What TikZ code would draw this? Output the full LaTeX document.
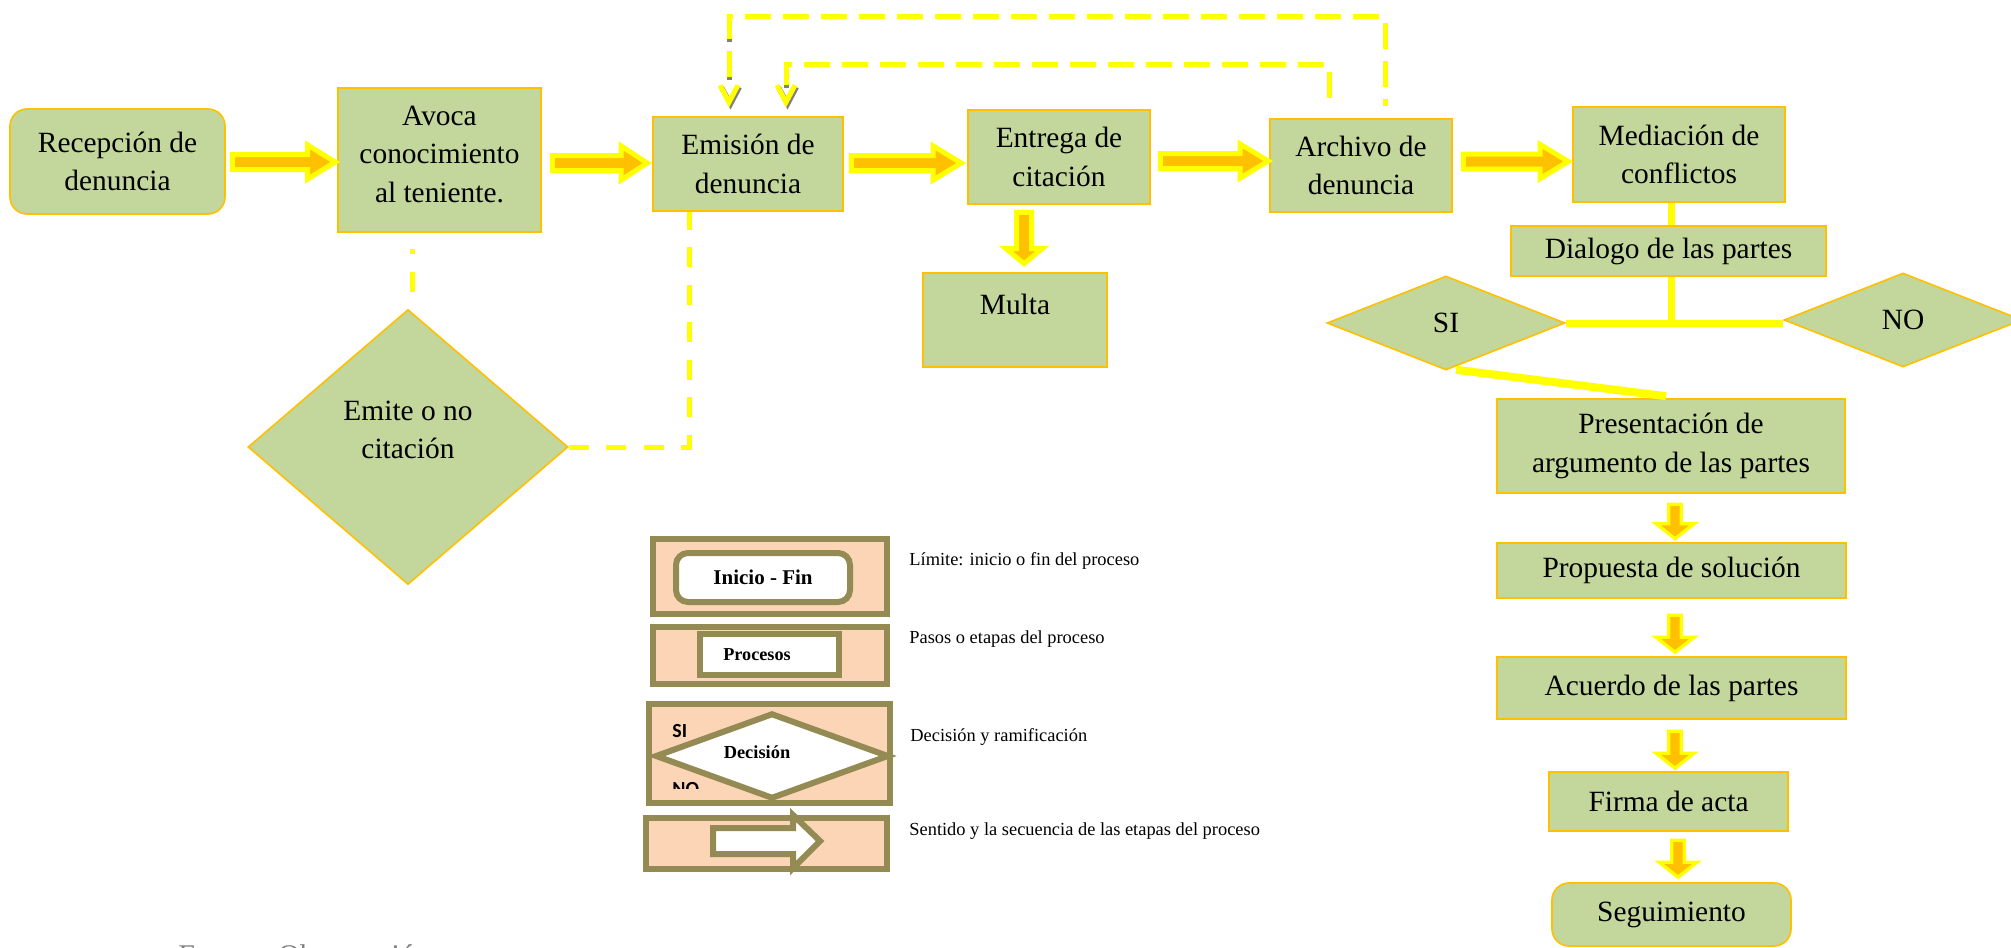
\documentclass[tikz,border=0pt]{standalone}
\usepackage{fontspec}
\setmainfont{Liberation Serif}
\newfontfamily\keysans{Carlito}
\usetikzlibrary{calc,shapes.geometric}

\definecolor{boxgreen}{HTML}{C3D69B}
\definecolor{boxedge}{HTML}{FFC000}
\definecolor{flowyellow}{HTML}{FFFF00}
\definecolor{floworange}{HTML}{FFC000}
\definecolor{keyolive}{HTML}{948A54}
\definecolor{keypeach}{HTML}{FBD5B5}
\definecolor{shadowgray}{HTML}{808080}

\newcommand\flowfont{\fontsize{14.7}{19.25}\selectfont}

% horizontal block arrow: [style]{start}{tip}{shaft half}{head half}{head length}
\newcommand\hblockarrow[6][]{%
  \draw[blockarrow,#1] let \p1=(#2), \p2=(#3) in
    ({\x1},{\y1+#4}) -- ({\x2-#6},{\y1+#4}) -- ({\x2-#6},{\y1+#5}) -- ({\x2},{\y1})
    -- ({\x2-#6},{\y1-#5}) -- ({\x2-#6},{\y1-#4}) -- ({\x1},{\y1-#4}) -- cycle;}
% downward block arrow: [style]{start}{tip}{shaft half}{head half}{head length}
\newcommand\vblockarrow[6][]{%
  \draw[blockarrow,#1] let \p1=(#2), \p2=(#3) in
    ({\x1-#4},{\y1}) -- ({\x1-#4},{\y2+#6}) -- ({\x1-#5},{\y2+#6}) -- ({\x1},{\y2})
    -- ({\x1+#5},{\y2+#6}) -- ({\x1+#4},{\y2+#6}) -- ({\x1+#4},{\y1}) -- cycle;}

\tikzset{
  stagebox/.style={draw=boxedge, line width=0.8pt, fill=boxgreen, inner sep=0pt,
    align=center, font=\flowfont},
  stageround/.style={stagebox, rounded corners=8.5pt},
  choice/.style={stagebox, shape=diamond},
  stagetext/.style={font=\flowfont, align=center, inner sep=0pt},
  blockarrow/.style={fill=floworange, draw=flowyellow, line width=2.5pt, line join=miter},
  slimarrow/.style={line width=1.65pt},
  dashlink/.style={draw=flowyellow, line width=2.5pt, dash pattern=on 13pt off 6pt},
  dashshade/.style={draw=shadowgray, line width=2.5pt, dash pattern=on 13pt off 6pt},
  dashlow/.style={draw=flowyellow, line width=2.5pt, dash pattern=on 10pt off 8.75pt},
  solidlink/.style={draw=flowyellow, line width=3.5pt},
  keyframe/.style={draw=keyolive, line width=3pt, fill=keypeach, inner sep=0pt},
  keyinner/.style={draw=keyolive, line width=3pt, fill=white, inner sep=0pt},
  keylabel/.style={anchor=base west, inner sep=0pt, font=\fontsize{9.2}{11}\selectfont},
  keybold/.style={font=\bfseries\fontsize{9.2}{11}\selectfont, inner sep=0pt},
  chevron/.pic={
    \draw[shadowgray, line width=2.5pt, line join=miter] (-7.5,-20) -- (1.5,-3) -- (10.5,-20);
    \draw[flowyellow, line width=2.5pt, line join=miter] (-9,-22) -- (0,-5) -- (9,-22);
  }
}

\begin{document}
\begin{tikzpicture}[x=0.5pt, y=-0.5pt]
\useasboundingbox (0,0) rectangle (2011,947);
\fill[white] (0,0) rectangle (2011,947);

% main flow
\node[stageround, minimum width=107.5pt, minimum height=52.5pt] (rec) at (117.5,161.5) {Recepción de\\denuncia};
\node[stagebox, minimum width=101.5pt, minimum height=72pt,
  label={[stagetext, yshift=2.75pt]center:Avoca\\conocimiento\\al teniente.}] (avo) at (439.5,160) {};
\node[stagebox, minimum width=95pt, minimum height=47pt] (emi) at (748,164) {Emisión de\\denuncia};
\node[stagebox, minimum width=91pt, minimum height=47pt] (ent) at (1059,157) {Entrega de\\citación};
\node[stagebox, minimum width=91pt, minimum height=46.5pt] (arc) at (1361,165.5) {Archivo de\\denuncia};
\node[stagebox, minimum width=106pt, minimum height=47.5pt] (med) at (1679,154.5) {Mediación de\\conflictos};
\node[stagebox, minimum width=92pt, minimum height=47pt,
  label={[stagetext, anchor=base, yshift=-21pt]north:Multa}] (mul) at (1015,320) {};
\node[choice, minimum width=160pt, minimum height=137.5pt,
  label={[stagetext, yshift=8.5pt]center:Emite o no\\citación}] (emite) at (408,447) {};

% mediation branch
\node[stagebox, minimum width=157.5pt, minimum height=25pt] (dia) at (1668.5,251) {Dialogo de las partes};
\node[choice, minimum width=119pt, minimum height=47pt] (si) at (1446,323) {SI};
\node[choice, minimum width=119pt, minimum height=47pt] (no) at (1903,320) {NO};
\node[stagebox, minimum width=174pt, minimum height=47pt] (pre) at (1671,446) {Presentación de\\argumento de las partes};
\node[stagebox, minimum width=174.5pt, minimum height=27.5pt] (pro) at (1671.5,570.5) {Propuesta de solución};
\node[stagebox, minimum width=174.5pt, minimum height=31pt] (acu) at (1671.5,688) {Acuerdo de las partes};
\node[stagebox, minimum width=119.5pt, minimum height=29.5pt] (fir) at (1668.5,801.5) {Firma de acta};
\node[stageround, minimum width=119.5pt, minimum height=31.5pt] (seg) at (1671.5,914.5) {Seguimiento};

% block arrows along the main row
\coordinate (row) at (0,162);
\hblockarrow{$(rec.east |- row)+(6.5,0)$}{$(avo.west |- row)+(-2,0)$}{3.75pt}{8.5pt}{13.75pt}
\hblockarrow{$(avo.east |- row)+(10.5,1)$}{$(emi.west |- row)+(-5,1)$}{3.75pt}{8.5pt}{13pt}
\hblockarrow{$(emi.east |- row)+(7.5,1)$}{$(ent.west |- row)+(-6,1)$}{3.75pt}{8.5pt}{14pt}
\hblockarrow{$(ent.east |- row)+(9.5,-1)$}{$(arc.west |- row)+(-1,-1)$}{3.75pt}{8.5pt}{14pt}
\hblockarrow{$(arc.east |- row)+(10.5,-0.5)$}{$(med.west |- row)+(-4,-0.5)$}{3.75pt}{8.5pt}{14pt}
\vblockarrow{$(ent.south)+(-35,7.5)$}{$(mul.north)+(0,-8.5)$}{3.75pt}{9pt}{7.5pt}

% block arrows down the right column
\vblockarrow[slimarrow]{$(pre.south)+(4,10.5)$}{$(pro.north)+(0,-3.5)$}{3.15pt}{9.5pt}{7.5pt}
\vblockarrow[slimarrow]{$(pro.south)+(3.5,16.5)$}{$(acu.north)+(0,-4)$}{3.15pt}{9.5pt}{7.5pt}
\vblockarrow[slimarrow]{$(acu.south)+(3.5,11.5)$}{$(fir.north)+(0,-3)$}{3.15pt}{9.5pt}{7.5pt}
\vblockarrow[slimarrow]{$(fir.south)+(9.5,8.5)$}{$(seg.north)+(0,-5)$}{3.15pt}{9.5pt}{7.5pt}

% solid links of the mediation branch
\draw[solidlink] ($(med.south)+(-8,0)$) -- ($(dia.north -| med.south)+(-8,0)$);
\draw[solidlink] ($(dia.south)+(2.5,0)$) coordinate (dj) -- (dj |- si.east);
\draw[solidlink] (si.east) -- (si.east -| no.west);
\draw[solidlink, line width=4pt] ($(si.south)+(10,-1)$) -- ($(pre.north)+(-5,-2)$);

% dashed return loops into the issuing step
\coordinate (outerTop) at (0,17);
\coordinate (innerTop) at (0,65);
\path ($(emi.north)+(-19,-39)$) coordinate (oEnd)
      ($(arc.north)+(24,-12)$) coordinate (oStart)
      ($(emi.north)+(38,-31)$) coordinate (iEnd)
      ($(arc.north)+(-32,-12)$) coordinate (iStart);
\draw[dashshade] ($(oEnd)+(0,3)$) -- ($(oEnd |- outerTop)+(0,3)$);
\draw[dashshade] ($(iEnd)+(0,3)$) -- ($(iEnd |- innerTop)+(0,3)$);
\draw[dashlink] (oEnd) -- (oEnd |- outerTop) -- (oStart |- outerTop) -- (oStart);
\draw[dashlink] (iEnd) -- (iEnd |- innerTop) -- (iStart |- innerTop) -- (iStart);
\pic at ($(emi.north)+(-19,-9)$) {chevron};
\pic at ($(emi.north)+(38,-9)$) {chevron};

% dashed links of the citation decision
\coordinate (eUp) at ($(emi.south)+(-59,0)$);
\draw[dashlow] (emite.east) -| (eUp);
\draw[dashlow, dash pattern=on 10pt off 9pt] ($(emite.north)+(4,-17)$) -- ($(avo.south)+(-27.5,16)$);

% legend
\node[keyframe, minimum width=117pt, minimum height=37.5pt] (k1) at (770,576.5) {};
\node[keyinner, rounded corners=6pt, minimum width=87pt, minimum height=24.5pt,
  font=\bfseries\fontsize{10.5}{12}\selectfont] (k1in) at (763,577.5) {Inicio - Fin};
\node[keyframe, minimum width=117pt, minimum height=28.5pt] (k2) at (770,655.5) {};
\node[keyinner, minimum width=69.5pt, minimum height=20.5pt,
  label={[keybold, font=\bfseries\fontsize{9.1}{11}\selectfont, xshift=-6.25pt]center:Procesos}] (k2in) at (769.5,654.5) {};
\node[keyframe, minimum width=120.5pt, minimum height=49.5pt] (k3) at (769.5,753.5) {};
\node[keyinner, shape=diamond, minimum width=117pt, minimum height=43pt,
  label={[keybold, xshift=-7.5pt, yshift=2pt]center:Decisión}] (k3in) at (772,756) {};
\node[anchor=base west, inner sep=0pt, font=\keysans\bfseries\fontsize{10}{12}\selectfont] (k3si) at (672,737) {SI};
\begin{scope}
  \clip (660,770) rectangle (720,788);
  \node[anchor=base west, inner sep=0pt, font=\keysans\bfseries\fontsize{10}{12}\selectfont] (k3no) at (672,795) {NO};
\end{scope}
\node[keyframe, minimum width=120.5pt, minimum height=25.5pt] (k4) at (766.5,843.5) {};
\draw[draw=keyolive, line width=3pt, fill=white, line join=miter]
  (713,828) -- (793,828) -- (793,815) -- (820,841) -- (793,868) -- (793,854) -- (713,854) -- cycle;

\node[keylabel] (k1txt) at (909,565) {Límite: inicio o fin del proceso};
\node[keylabel] (k2txt) at (909,643) {Pasos o etapas del proceso};
\node[keylabel] (k3txt) at (910,741) {Decisión y ramificación};
\node[keylabel] (k4txt) at (909,835) {Sentido y la secuencia de las etapas del proceso};

% source line along the lower edge
\node[anchor=base west, inner sep=0pt, text=shadowgray, font=\fontsize{15}{18}\selectfont] (src) at (178,965) {Fuente: Observación};
\end{tikzpicture}
\end{document}
